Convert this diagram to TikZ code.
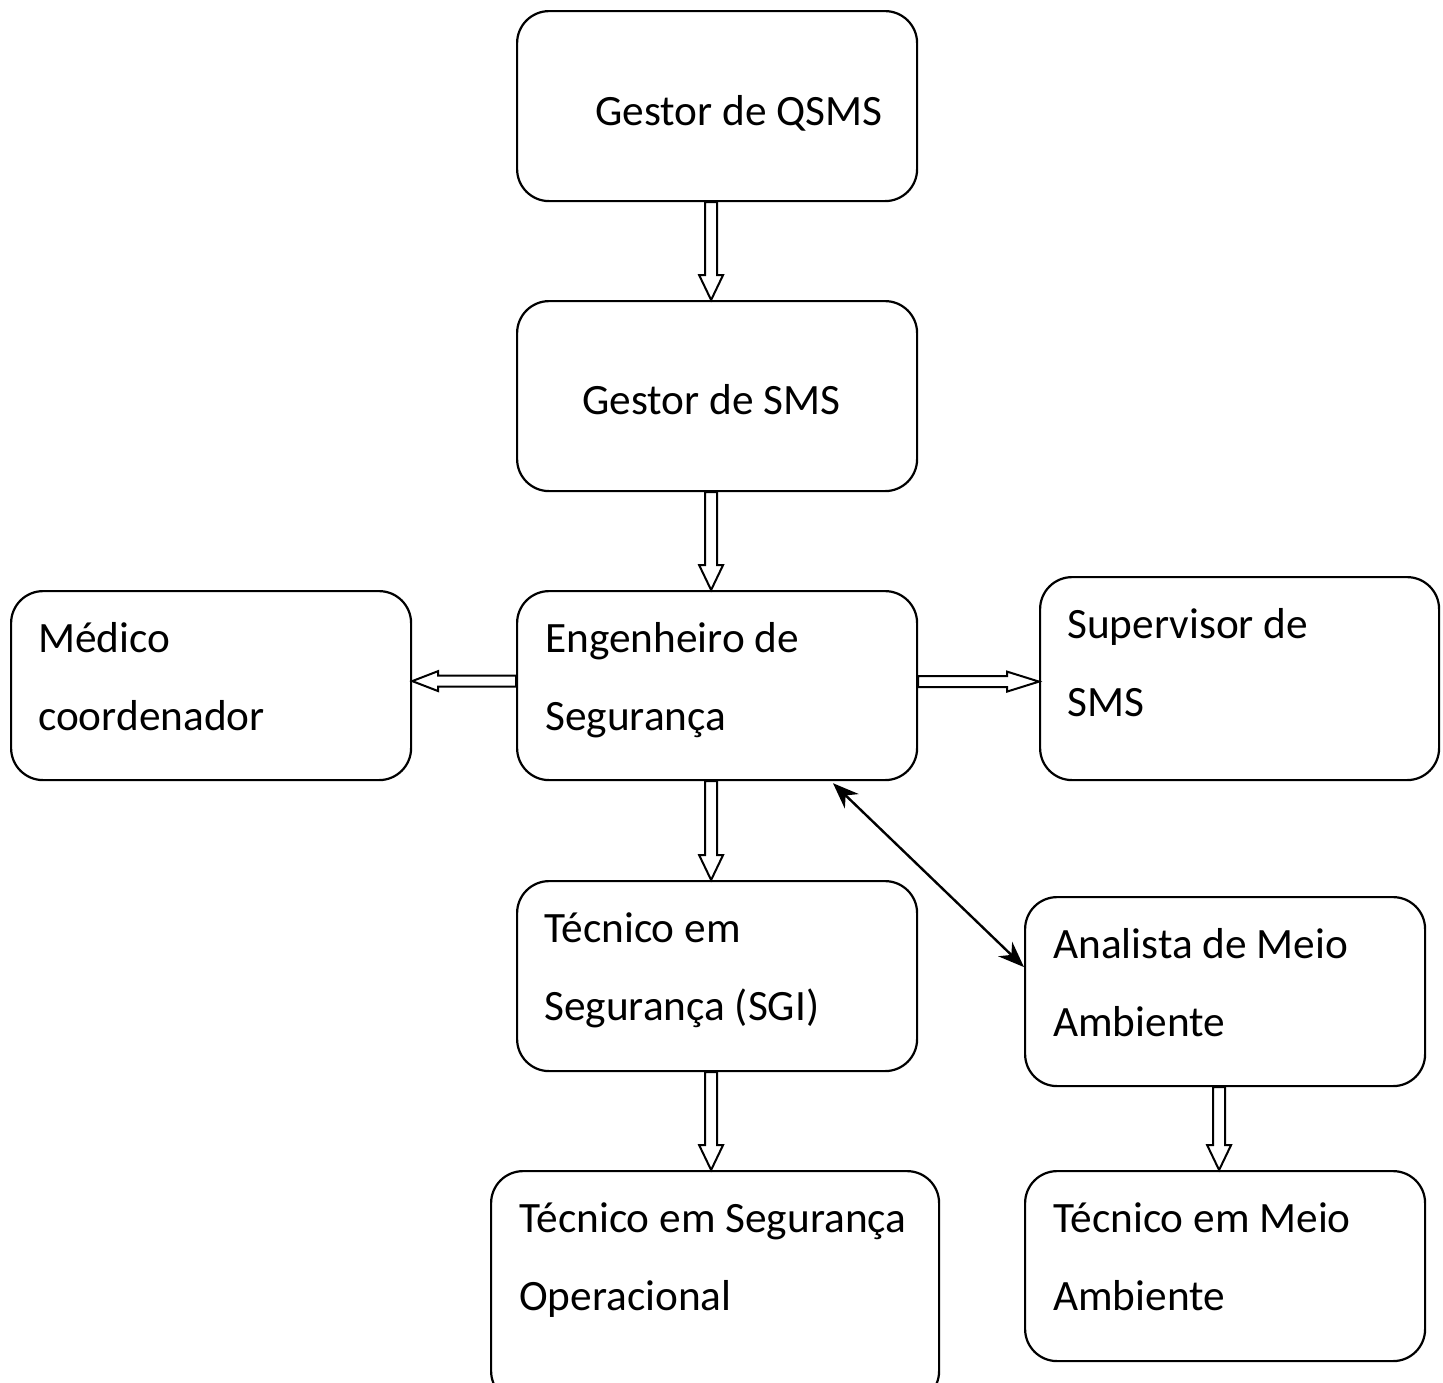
\documentclass[tikz,border=0pt]{standalone}
\usepackage{fontspec}
\setmainfont{Carlito}
\usetikzlibrary{calc,arrows.meta}
\newcommand\downarr[2]{%
  \filldraw[hollow] let \p1=#1, \p2=#2 in
   (\x1-6pt,\y1) -- (\x1-6pt,\y2+25pt) -- (\x1-12pt,\y2+25pt) -- (\x1,\y2)
   -- (\x1+12pt,\y2+25pt) -- (\x1+6pt,\y2+25pt) -- (\x1+6pt,\y1) -- cycle;}
\newcommand\leftarr[2]{%
  \filldraw[hollow] let \p1=#1, \p2=#2 in
   (\x1,\y1+5.5pt) -- (\x2+26pt,\y1+5.5pt) -- (\x2+26pt,\y1+10pt) -- (\x2,\y1)
   -- (\x2+26pt,\y1-10pt) -- (\x2+26pt,\y1-5.5pt) -- (\x1,\y1-5.5pt) -- cycle;}
\newcommand\rightarr[2]{%
  \filldraw[hollow] let \p1=#1, \p2=#2 in
   (\x1,\y1+5.5pt) -- (\x2-32pt,\y1+5.5pt) -- (\x2-32pt,\y1+10pt) -- (\x2,\y1)
   -- (\x2-32pt,\y1-10pt) -- (\x2-32pt,\y1-5.5pt) -- (\x1,\y1-5.5pt) -- cycle;}
\begin{document}
\begin{tikzpicture}[x=1pt,y=-1pt,
  box/.style={draw, line width=2.2pt, rounded corners=32pt, inner sep=0pt, anchor=north west},
  lbl/.style={inner sep=0pt, anchor=base west, font=\fontsize{43.3}{78}\selectfont},
  hollow/.style={fill=white, draw=black, line width=2pt, line join=miter}]
\useasboundingbox (0,0) rectangle (1443,1382);
\clip (0,0) rectangle (1443,1382);
\fill[white] (0,0) rectangle (1443,1382);

% boxes
\node[box, minimum width=400pt, minimum height=190pt] (g1) at (516,10) {};
\node[box, minimum width=400pt, minimum height=190pt] (g2) at (516,300) {};
\node[box, minimum width=400pt, minimum height=189pt] (eng) at (516,590) {};
\node[box, minimum width=400pt, minimum height=189pt] (med) at (10,590) {};
\node[box, minimum width=399pt, minimum height=203pt] (sup) at (1039,576) {};
\node[box, minimum width=400pt, minimum height=190pt] (tsgi) at (516,880) {};
\node[box, minimum width=400pt, minimum height=189pt] (ana) at (1024,896) {};
\node[box, minimum width=448pt, minimum height=232pt] (top) at (490,1170) {};
\node[box, minimum width=400pt, minimum height=190pt] (tma) at (1024,1170) {};

% labels
\node[lbl] (l1) at (595,125) {Gestor de QSMS};
\node[lbl] (l2) at (582,414) {Gestor de SMS};
\node[lbl] (l3a) at (545,652) {Engenheiro de};
\node[lbl] (l3b) at (545,730) {Segurança};
\node[lbl] (l4a) at (38,652) {Médico};
\node[lbl] (l4b) at (38,730) {coordenador};
\node[lbl] (l5a) at (1067,638) {Supervisor de};
\node[lbl] (l5b) at (1067,716) {SMS};
\node[lbl] (l6a) at (544,942) {Técnico em};
\node[lbl] (l6b) at (544,1020) {Segurança (SGI)};
\node[lbl] (l7a) at (1053,958) {Analista de Meio};
\node[lbl] (l7b) at (1053,1036) {Ambiente};
\node[lbl] (l8a) at (519,1232) {Técnico em Segurança};
\node[lbl] (l8b) at (519,1310) {Operacional};
\node[lbl] (l9a) at (1053,1232) {Técnico em Meio};
\node[lbl] (l9b) at (1053,1310) {Ambiente};

% hollow arrows
\downarr{($(g1.south)+(-6,0)$)}{($(g2.north)+(-6,0)$)}
\downarr{($(g2.south)+(-6,0)$)}{($(eng.north)+(-6,0)$)}
\downarr{($(eng.south)+(-6,0)$)}{($(tsgi.north)+(-6,0)$)}
\downarr{($(tsgi.south)+(-6,0)$)}{($(top.north)+(-4,0)$)}
\downarr{($(ana.south)+(-6,0)$)}{($(tma.north)+(-6,0)$)}
\leftarr{($(eng.west)+(0,-4.5)$)}{(med.east)}
\rightarr{($(eng.east)+(0,-4)$)}{(sup.west)}

% double arrow
\coordinate (da1) at ($(eng.south west)+(317,2)$);
\coordinate (da2) at ($(ana.west)+(0,-24.5)$);
\draw[line width=2.4pt, {Stealth[length=26pt,width=20pt]}-{Stealth[length=26pt,width=20pt]}] (da1) -- (da2);
\end{tikzpicture}
\end{document}
